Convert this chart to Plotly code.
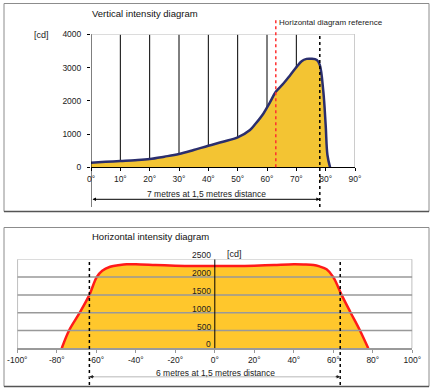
import plotly.graph_objects as go

# ---------------- data ----------------
# Vertical intensity diagram (angle in degrees, intensity in cd)
v_angle = [0, 5, 10, 15, 20, 25, 30, 35, 40, 45, 50, 54.2, 56, 58.8, 61, 63,
           65.6, 67.9, 70.1, 71.8, 73.5, 75, 77, 78, 79.2, 80, 80.6, 81.5]
v_cd = [140, 165, 190, 215, 250, 320, 400, 520, 650, 770, 900, 1120, 1300, 1620,
        1950, 2270, 2520, 2770, 3020, 3190, 3260, 3265, 3230, 3080, 2280, 1270, 370, 0]

# Horizontal intensity diagram
h_angle = [-77.5, -73.8, -68.4, -63.5, -59.8, -57, -53, -48, -44.6, -40, -30, -20,
           -10, 0, 10, 20, 30, 40, 45, 50, 53, 56.6, 60, 64.2, 68.8, 73.5, 77.7]
h_cd = [0, 500, 1000, 1500, 2000, 2180, 2290, 2340, 2360, 2360, 2340, 2320,
        2310, 2310, 2310, 2320, 2340, 2360, 2355, 2340, 2300, 2220, 2000, 1500,
        1000, 500, 0]

v_xticks = [0, 10, 20, 30, 40, 50, 60, 70, 80, 90]
v_yticks = [0, 1000, 2000, 3000, 4000]
v_inner_lines = [10, 20, 30, 40, 50, 60, 70]
h_xticks = [-100, -80, -60, -40, -20, 0, 20, 40, 60, 80, 100]
h_yticks = [0, 500, 1000, 1500, 2000, 2500]

v_ref_angle = 63       # horizontal diagram reference
v_width_angle = 78     # 7 metres limit
h_width_angle = 63.5   # 6 metres limit (+/-)

W, H = 434, 392
def fx(px):
    return px / W
def fy(py):
    return (H - py) / H

FONT = "Liberation Sans, Arial, sans-serif"
TOP_FILL = "#F3C433"
TOP_LINE = "#2B2F6E"
BOT_FILL = "#FFC72C"
BOT_LINE = "#FF1A1A"

fig = go.Figure()

fig.add_trace(go.Scatter(x=v_angle, y=v_cd, mode="lines", fill="tozeroy",
                         fillcolor=TOP_FILL, line=dict(color=TOP_LINE, width=2.5),
                         line_shape="spline", hoverinfo="skip",
                         xaxis="x", yaxis="y", showlegend=False))

fig.add_trace(go.Scatter(x=h_angle, y=h_cd, mode="lines", fill="tozeroy",
                         fillcolor=BOT_FILL, line=dict(color=BOT_LINE, width=2.5),
                         line_shape="spline", hoverinfo="skip",
                         xaxis="x2", yaxis="y2", showlegend=False))

tickfont = dict(family=FONT, size=8.5, color="#222")

fig.update_layout(
    template="none",
    width=W, height=H, margin=dict(l=0, r=0, t=0, b=0, pad=0, autoexpand=False),
    paper_bgcolor="white", plot_bgcolor="rgba(0,0,0,0)",
    font=dict(family=FONT, color="#111"),
    xaxis=dict(domain=[fx(91), fx(355)], range=[0, 90], anchor="y", automargin=False,
               tickvals=v_xticks, ticktext=[f"{t}°" for t in v_xticks],
               ticks="outside", ticklen=3, tickcolor="black",
               showline=True, linecolor="black", linewidth=1,
               showgrid=False, zeroline=False, tickfont=tickfont),
    yaxis=dict(domain=[fy(167.3), fy(34.3)], range=[0, 4000], anchor="x", automargin=False,
               tickvals=v_yticks, ticks="outside", ticklen=3, tickcolor="black",
               showline=False, showgrid=False, zeroline=False,
               ticklabelstandoff=4, tickfont=tickfont),
    xaxis2=dict(domain=[fx(17.3), fx(412.3)], range=[-100, 100], anchor="y2", automargin=False,
                tickvals=h_xticks, ticktext=[f"{t}°" for t in h_xticks],
                ticks="outside", ticklen=3, tickcolor="#999",
                showline=True, linecolor="#9a9a9a", linewidth=1.5,
                showgrid=False, zeroline=False, tickfont=tickfont),
    yaxis2=dict(domain=[fy(348.3), fy(259.3)], range=[0, 2500], anchor="x2", automargin=False,
                showticklabels=False, ticks="", showline=False,
                showgrid=False, zeroline=False),
)

shapes = []
# top panel frame
shapes.append(dict(type="rect", xref="paper", yref="paper",
                   x0=fx(4), x1=fx(429), y0=fy(211.5), y1=fy(3.5),
                   line=dict(color="#8c8c8c", width=1), layer="below"))
shapes.append(dict(type="line", xref="paper", yref="paper",
                   x0=fx(4), x1=fx(429), y0=fy(211.5), y1=fy(211.5),
                   line=dict(color="#555", width=1.5)))
# bottom panel frame
shapes.append(dict(type="rect", xref="paper", yref="paper",
                   x0=fx(4), x1=fx(429), y0=fy(386.5), y1=fy(227.5),
                   line=dict(color="#8c8c8c", width=1), layer="below"))
shapes.append(dict(type="line", xref="paper", yref="paper",
                   x0=fx(4), x1=fx(429), y0=fy(386.5), y1=fy(386.5),
                   line=dict(color="#555", width=1.5)))

# top: inner vertical lines (behind fill)
for a in v_inner_lines:
    shapes.append(dict(type="line", xref="x", yref="y", x0=a, x1=a, y0=0, y1=4000,
                       line=dict(color="black", width=1), layer="below"))
# top gridline at 4000 and right border
shapes.append(dict(type="line", xref="x", yref="y", x0=0, x1=90, y0=4000, y1=4000,
                   line=dict(color="#d0d0d0", width=1.5), layer="below"))
shapes.append(dict(type="line", xref="x", yref="y", x0=90, x1=90, y0=0, y1=4000,
                   line=dict(color="#999", width=1), layer="below"))
# left line at 0 extended down
shapes.append(dict(type="line", xref="x", yref="paper", x0=0, x1=0,
                   y0=fy(207), y1=fy(34.3), line=dict(color="black", width=1)))
# 78 deg dotted line
shapes.append(dict(type="line", xref="x", yref="paper", x0=v_width_angle, x1=v_width_angle,
                   y0=fy(207), y1=fy(34.3), line=dict(color="black", width=1.5, dash="dot")))
# red reference line
shapes.append(dict(type="line", xref="x", yref="paper", x0=v_ref_angle, x1=v_ref_angle,
                   y0=fy(167.3), y1=fy(18), line=dict(color="#ff3030", width=1.5, dash="dot")))

# bottom gridlines (over fill)
for v in h_yticks[1:-1]:
    shapes.append(dict(type="line", xref="x2", yref="y2", x0=-100, x1=100, y0=v, y1=v,
                       line=dict(color="#999", width=1.5), layer="above"))
shapes.append(dict(type="line", xref="x2", yref="y2", x0=-100, x1=100, y0=2500, y1=2500,
                   line=dict(color="#d0d0d0", width=1.5), layer="below"))
for a in (-100, 100):
    shapes.append(dict(type="line", xref="x2", yref="y2", x0=a, x1=a, y0=0, y1=2500,
                       line=dict(color="#aaa", width=1.5), layer="below"))
# center axis line
shapes.append(dict(type="line", xref="x2", yref="y2", x0=0, x1=0, y0=0, y1=2500,
                   line=dict(color="black", width=1), layer="above"))
# +/- dotted lines
for a in (-h_width_angle, h_width_angle):
    shapes.append(dict(type="line", xref="x2", yref="paper", x0=a, x1=a,
                       y0=fy(385), y1=fy(259.3),
                       line=dict(color="black", width=1.5, dash="dot")))
# bottom measurement line (grey)
shapes.append(dict(type="line", xref="x2", yref="paper", x0=-h_width_angle, x1=h_width_angle,
                   y0=fy(376.7), y1=fy(376.7), line=dict(color="#cfcfcf", width=1.5)))

fig.update_layout(shapes=shapes)

ann = []
ann.append(dict(text="Vertical intensity diagram", xref="paper", yref="paper",
                x=fx(90), y=fy(13), xanchor="left", yanchor="middle",
                showarrow=False, font=dict(size=9.5, family=FONT, color="#111")))
ann.append(dict(text="Horizontal diagram reference", xref="paper", yref="paper",
                x=fx(277), y=fy(22), xanchor="left", yanchor="middle",
                showarrow=False, font=dict(size=8, family=FONT, color="#222")))
ann.append(dict(text="[cd]", xref="paper", yref="paper",
                x=fx(51), y=fy(35), xanchor="right", yanchor="middle",
                showarrow=False, font=dict(size=9, family=FONT, color="#222")))
ann.append(dict(text="7 metres at 1,5 metres distance", xref="paper", yref="paper",
                x=fx(206), y=fy(193.5), xanchor="center", yanchor="middle",
                showarrow=False, font=dict(size=8.5, family=FONT, color="#222")))
ann.append(dict(text="", xref="x", yref="paper", x=v_width_angle, y=fy(199.3),
                axref="x", ayref="pixel", ax=0, ay=0, showarrow=True,
                arrowhead=2, startarrowhead=2, arrowside="end+start",
                arrowsize=0.7, startarrowsize=0.7, arrowwidth=1, arrowcolor="black"))

ann.append(dict(text="Horizontal intensity diagram", xref="paper", yref="paper",
                x=fx(90), y=fy(236), xanchor="left", yanchor="middle",
                showarrow=False, font=dict(size=9.5, family=FONT, color="#111")))
ann.append(dict(text="[cd]", xref="paper", yref="paper",
                x=fx(225), y=fy(254), xanchor="left", yanchor="middle",
                showarrow=False, font=dict(size=9, family=FONT, color="#222")))
for v in h_yticks:
    ann.append(dict(text=str(v), xref="paper", yref="y2", x=fx(213), y=v,
                    yshift=4, xanchor="right", yanchor="middle", showarrow=False,
                    font=dict(size=8.5, family=FONT, color="#222")))
ann.append(dict(text="6 metres at 1,5 metres distance", xref="paper", yref="paper",
                x=fx(215), y=fy(373), xanchor="center", yanchor="middle",
                showarrow=False, font=dict(size=8.5, family=FONT, color="#222")))
# small black arrowheads at both ends of the bottom measurement line
for a, off in ((h_width_angle, -6), (-h_width_angle, 6)):
    ann.append(dict(text="", xref="x2", yref="paper", x=a, y=fy(376.7),
                    axref="pixel", ayref="pixel", ax=off, ay=0, showarrow=True,
                    arrowhead=2, arrowsize=0.7, arrowwidth=1, arrowcolor="#222"))

fig.update_layout(annotations=ann)

fig.write_html(
    "out.html",
    config={"displayModeBar": False},
    post_script="document.body.style.margin='0';document.body.style.overflow='hidden';"
                "document.documentElement.style.overflow='hidden';",
)
